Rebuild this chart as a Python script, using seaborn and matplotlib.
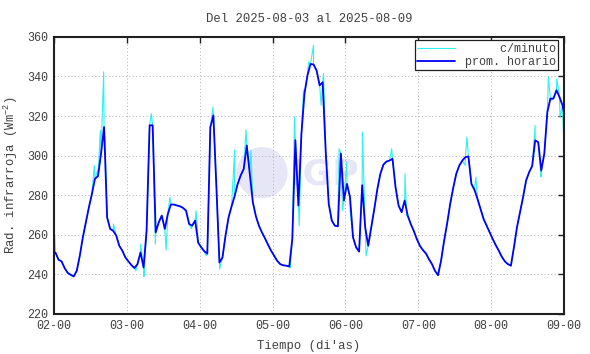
import numpy as np
import pandas as pd
import seaborn as sns
import matplotlib.pyplot as plt
from matplotlib.patches import Ellipse

# Promedios horarios (Wm-2), un valor por hora, centrado en la media hora
prom_dia02 = [251, 247.4, 246.6, 243.2, 240.8, 239.8, 239, 241.8, 249.4, 258.7, 266.3, 273.9,
              280.7, 288.3, 289.6, 301, 314.4, 268.8, 263, 262, 259.6, 254.5, 252, 248.6]
prom_dia03 = [246.6, 244.7, 243.2, 245.2, 251.1, 243.5, 262, 315.3, 315.3, 261.2, 266.3, 269.7,
              263, 270.5, 275.3, 275.3, 274.8, 274.4, 273.6, 272.2, 265.5, 264.6, 267.2, 256]
prom_dia04 = [253.7, 251.7, 250.5, 314.4, 320.3, 284, 246, 248.6, 259.6, 268.8, 274.4, 279.5,
              285.7, 290, 293.3, 305.1, 290.8, 276.4, 269.4, 264.6, 261.2, 258.2, 255, 252]
prom_dia05 = [249.5, 246.9, 245.2, 244.6, 244.4, 244, 258, 307.8, 274.8, 311, 331.3, 340.6,
              346.3, 346, 343, 335.5, 337, 302, 275.6, 267.2, 264.6, 264.3, 301, 277.3]
prom_dia06 = [285.7, 279, 258.7, 253.7, 251.5, 285, 263.8, 254.5, 263.8, 273, 283, 290.8,
              295.4, 297, 297.5, 298.4, 284, 274.8, 271.4, 277.3, 269.7, 265.5, 262, 257.9]
prom_dia07 = [254.5, 252.3, 250.6, 247.7, 245.2, 241.8, 239.6, 247, 257, 265.8, 275.6, 283.7,
              290.8, 295, 297.5, 299.2, 299.6, 285.7, 282.7, 278.1, 273, 268, 264.6, 261.2]
prom_dia08 = [257.9, 254.8, 252, 248.9, 246.6, 245.2, 244.4, 253.7, 263.8, 271.4, 279, 287.4,
              291.6, 294.7, 307.7, 306.8, 292.5, 301, 322, 328.8, 328.8, 333, 329.6, 325.4]
prom_dia09 = [318]

# Picos de los datos por minuto (dia del mes, valor)
pico_dia = [2.01, 2.553, 2.599, 2.636, 2.682, 2.70, 2.816, 3.124, 3.189, 3.235, 3.336, 3.392,
            3.539, 3.59, 3.886, 3.95, 4.087, 4.183, 4.274, 4.479, 4.635, 4.703, 5.242, 5.301,
            5.365, 5.425, 5.493, 5.562, 5.667, 5.699, 5.913, 5.959, 6.018, 6.064, 6.233, 6.283,
            6.53, 6.635, 6.817, 6.84, 7.644, 7.667, 7.79, 8.603, 8.685, 8.785, 8.831, 8.9,
            8.945, 8.991]
pico_val = [260, 295, 292.5, 312.7, 342.3, 307.7, 265.5, 241.8, 255.3, 239, 321.2, 255.3,
            252.3, 279, 263, 272.2, 249.4, 324.5, 242.7, 302.9, 313.2, 302.6, 243.2, 319.5,
            264.6, 333, 347.3, 355.8, 325.4, 341.4, 303.5, 272.2, 296.7, 272.2, 311.9, 249.4,
            295.9, 303.5, 290.8, 269.7, 295, 309.4, 289.2, 315.3, 289.2, 339.7, 328, 338.8,
            319.5, 312.1]

etiquetas = ["     c/minuto", "prom. horario"]
dias_ticks = [2, 3, 4, 5, 6, 7, 8, 9]
etiquetas_x = ["02-00", "03-00", "04-00", "05-00", "06-00", "07-00", "08-00", "09-00"]
y_ticks = [220, 240, 260, 280, 300, 320, 340, 360]

prom = (prom_dia02 + prom_dia03 + prom_dia04 + prom_dia05 + prom_dia06 + prom_dia07
        + prom_dia08 + prom_dia09)
t_prom = 2 + (np.arange(len(prom)) + 0.5) / 24
df_hora = pd.DataFrame({"dia": t_prom, "rad": prom})
df_min = pd.concat([df_hora, pd.DataFrame({"dia": pico_dia, "rad": pico_val})])
df_min = df_min.sort_values("dia").reset_index(drop=True)

sns.set_theme(style="white")
plt.rcParams["font.family"] = ["Liberation Mono", "DejaVu Sans Mono"]
plt.rcParams["mathtext.default"] = "regular"
gris = "#404040"

fig = plt.figure(figsize=(5.9, 3.54), dpi=100)
ax = fig.add_axes([0.0915, 0.113, 0.8645, 0.783])

# marca de agua
ax.add_patch(Ellipse((0.408, 0.51), 0.1, 0.185, transform=ax.transAxes,
                     facecolor="#e6e6f7", edgecolor="none", zorder=0))
ax.text(0.53, 0.505, "IGP", transform=ax.transAxes, fontsize=26, fontweight="bold",
        family="DejaVu Sans", color="#e6e6f7", ha="center", va="center", zorder=0)

sns.lineplot(data=df_min, x="dia", y="rad", color="#30f0f0", lw=0.8, estimator=None,
             errorbar=None, label=etiquetas[0], ax=ax, zorder=2)
sns.lineplot(data=df_hora, x="dia", y="rad", color="#0000ff", lw=1.3, estimator=None,
             errorbar=None, label=etiquetas[1], ax=ax, zorder=3)

ax.set_xlim(2, 9)
ax.set_ylim(220, 360)
ax.set_xticks(dias_ticks)
ax.set_xticklabels(etiquetas_x)
ax.set_yticks(y_ticks)
ax.grid(True, color="#b0b0b0", lw=0.7, linestyle=(0, (1, 2.5)))
ax.tick_params(direction="in", length=4, width=1, color="#202020", top=True, right=True,
               labelsize=8.5, labelcolor=gris, pad=4)
for s in ax.spines.values():
    s.set_linewidth(1.5)
    s.set_color("#202020")

ax.set_title("Del 2025-08-03 al 2025-08-09", fontsize=8.8, color=gris, pad=11)
ax.set_xlabel("Tiempo (di'as)", fontsize=8.8, color=gris, labelpad=6)
ax.set_ylabel("Rad. infrarroja (Wm$^{-2}$)", fontsize=8.8, color=gris, labelpad=5)

leg = ax.legend(loc="upper right", bbox_to_anchor=(0.988, 0.987), fancybox=False,
                framealpha=1, edgecolor="#202020", fontsize=8.5, handlelength=3.2,
                handletextpad=0.8, borderpad=0.2, labelspacing=0.1, borderaxespad=0)
leg.get_frame().set_linewidth(0.9)
for t in leg.get_texts():
    t.set_color(gris)

fig.savefig("out.png", dpi=100)
